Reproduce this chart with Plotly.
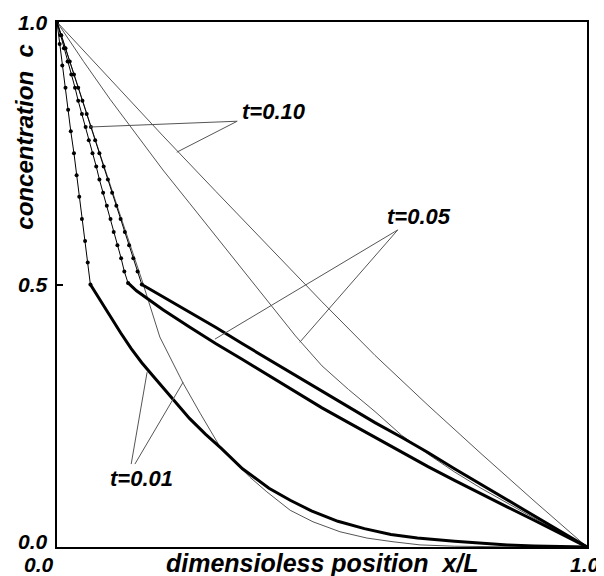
import plotly.graph_objects as go

# ---------------- data ----------------
# thin (analytic-type) curves
thin_t010_x = [0.0, 0.1, 0.2, 0.3, 0.4, 0.5, 0.6, 0.7, 0.8, 0.9, 1.0]
thin_t010_c = [1.0, 0.891, 0.783, 0.677, 0.572, 0.467, 0.365, 0.270, 0.178, 0.088, 0.0]

thin_t005_x = [0.0, 0.05, 0.1, 0.15, 0.2, 0.25, 0.3, 0.35, 0.4, 0.45, 0.5, 0.55, 0.6,
               0.65, 0.7, 0.75, 0.8, 0.85, 0.9, 0.95, 1.0]
thin_t005_c = [1.0, 0.925, 0.853, 0.785, 0.718, 0.655, 0.592, 0.530, 0.467, 0.402, 0.345,
               0.300, 0.258, 0.213, 0.177, 0.143, 0.112, 0.083, 0.055, 0.027, 0.0]

thin_t001_x = [0.0, 0.04, 0.08, 0.12, 0.16, 0.194, 0.238, 0.27, 0.308, 0.364, 0.396, 0.44,
               0.483, 0.534, 0.585, 0.634, 0.685, 0.75, 0.85, 1.0]
thin_t001_c = [1.0, 0.875, 0.752, 0.630, 0.509, 0.400, 0.312, 0.255, 0.190, 0.133, 0.105,
               0.070, 0.048, 0.029, 0.017, 0.010, 0.004, 0.0015, 0.0003, 0.0]

# numerical curves: inner region nodes (with visible markers)
num_t001_in_x = [0.0, 0.005, 0.010, 0.016, 0.021, 0.026, 0.032, 0.037, 0.042, 0.047, 0.053, 0.058, 0.063]
num_t001_in_c = [1.0, 0.958, 0.917, 0.875, 0.833, 0.792, 0.750, 0.708, 0.667, 0.625, 0.583, 0.542, 0.500]

num_t005_in_x = [0.0, 0.007, 0.013, 0.020, 0.027, 0.034, 0.040, 0.047, 0.054, 0.060, 0.067,
                 0.074, 0.080, 0.087, 0.094, 0.101, 0.107, 0.114, 0.121, 0.127, 0.134]
num_t005_in_c = [1.0, 0.975, 0.950, 0.925, 0.900, 0.875, 0.850, 0.825, 0.800, 0.775, 0.750,
                 0.725, 0.700, 0.675, 0.650, 0.625, 0.600, 0.575, 0.550, 0.525, 0.503]

num_t010_in_x = [0.0, 0.008, 0.016, 0.024, 0.032, 0.040, 0.048, 0.056, 0.064, 0.072, 0.080,
                 0.088, 0.096, 0.104, 0.112, 0.120, 0.128, 0.136, 0.144, 0.152, 0.160]
num_t010_in_c = [1.0, 0.975, 0.950, 0.925, 0.900, 0.875, 0.850, 0.825, 0.800, 0.775, 0.750,
                 0.725, 0.700, 0.675, 0.650, 0.625, 0.600, 0.575, 0.550, 0.525, 0.500]

# numerical curves: outer region (dense nodes -> thick beaded line)
num_t001_out_x = [0.063, 0.08, 0.10, 0.12, 0.14, 0.16, 0.18, 0.20, 0.22, 0.25, 0.28, 0.31,
                  0.35, 0.40, 0.44, 0.48, 0.53, 0.58, 0.63, 0.68, 0.75, 0.80, 0.85, 0.90, 0.95, 1.0]
num_t001_out_c = [0.500, 0.472, 0.440, 0.408, 0.378, 0.351, 0.327, 0.304, 0.281, 0.245, 0.215,
                  0.188, 0.149, 0.112, 0.089, 0.069, 0.049, 0.035, 0.024, 0.017, 0.011, 0.007,
                  0.004, 0.002, 0.001, 0.0]

num_t005_out_x = [0.134, 0.15, 0.175, 0.2, 0.25, 0.3, 0.35, 0.4, 0.45, 0.5, 0.55, 0.6, 0.65,
                  0.7, 0.75, 0.8, 0.85, 0.9, 0.95, 1.0]
num_t005_out_c = [0.503, 0.488, 0.470, 0.452, 0.419, 0.387, 0.357, 0.326, 0.295, 0.265, 0.237,
                  0.209, 0.182, 0.153, 0.127, 0.101, 0.076, 0.051, 0.025, 0.0]

num_t010_out_x = [0.160, 0.2, 0.25, 0.3, 0.35, 0.4, 0.45, 0.5, 0.55, 0.6, 0.65, 0.7, 0.75,
                  0.8, 0.85, 0.9, 0.95, 1.0]
num_t010_out_c = [0.500, 0.477, 0.447, 0.418, 0.387, 0.357, 0.327, 0.297, 0.267, 0.237, 0.209,
                  0.180, 0.149, 0.119, 0.089, 0.059, 0.030, 0.0]

# curve labels and their leader lines (tip on curve -> label corner)
label_text = ["t=0.10", "t=0.05", "t=0.01"]
label_x = [0.345, 0.619, 0.096]
label_c = [0.829, 0.630, 0.130]
leader_from_x = [0.062, 0.226, 0.298, 0.458, 0.170, 0.238]
leader_from_c = [0.800, 0.752, 0.396, 0.390, 0.333, 0.314]
leader_to_x = [0.340, 0.340, 0.643, 0.643, 0.140, 0.147]
leader_to_c = [0.811, 0.811, 0.604, 0.604, 0.158, 0.158]

y_tick_vals = [0.0, 0.5, 1.0]
y_tick_text = ["0.0", "0.5", "1.0"]
x_tick_vals = [0.0, 1.0]
x_tick_text = ["0.0", "1.0"]

x_title = "dimensioless position  x/L"
y_title = "concentration  c"

# ---------------- figure ----------------
FONT = "Liberation Sans, Arial, sans-serif"
THIN = "#555555"

fig = go.Figure()

for xs, cs in [(thin_t010_x, thin_t010_c), (thin_t005_x, thin_t005_c), (thin_t001_x, thin_t001_c)]:
    fig.add_trace(go.Scatter(x=xs, y=cs, mode="lines",
                             line=dict(color=THIN, width=1), hoverinfo="skip"))

for xs, cs in [(num_t001_in_x, num_t001_in_c), (num_t005_in_x, num_t005_in_c),
               (num_t010_in_x, num_t010_in_c)]:
    fig.add_trace(go.Scatter(x=xs, y=cs, mode="lines+markers",
                             line=dict(color="black", width=1),
                             marker=dict(color="black", size=4, symbol="circle"),
                             hoverinfo="skip"))

for xs, cs in [(num_t001_out_x, num_t001_out_c), (num_t005_out_x, num_t005_out_c),
               (num_t010_out_x, num_t010_out_c)]:
    fig.add_trace(go.Scatter(x=xs, y=cs, mode="lines",
                             line=dict(color="black", width=3), hoverinfo="skip"))

for x0, c0, x1, c1 in zip(leader_from_x, leader_from_c, leader_to_x, leader_to_c):
    fig.add_shape(type="line", xref="x", yref="y", x0=x0, y0=c0, x1=x1, y1=c1,
                  line=dict(color=THIN, width=1))

for txt, lx, lc in zip(label_text, label_x, label_c):
    fig.add_annotation(x=lx, y=lc, xref="x", yref="y", text="<b><i>%s</i></b>" % txt,
                       showarrow=False, xanchor="left", yanchor="middle",
                       font=dict(family=FONT, size=22, color="black"))

for v, t in zip(y_tick_vals, y_tick_text):
    fig.add_annotation(x=0, y=v, xref="paper", yref="y", text="<b><i>%s</i></b>" % t,
                       showarrow=False, xanchor="right", yanchor="middle", xshift=-8,
                       yshift=6 if v == 0 else 0, borderpad=0,
                       font=dict(family=FONT, size=21, color="black"))

for v, t in zip(x_tick_vals, x_tick_text):
    fig.add_annotation(x=v, y=0, xref="x", yref="paper", text="<b><i>%s</i></b>" % t,
                       showarrow=False, xanchor="center", yanchor="middle",
                       xshift=-18 if v == 0 else -2, yshift=-17, borderpad=0,
                       font=dict(family=FONT, size=21, color="black"))

fig.add_annotation(x=0.50, y=-0.031, xref="paper", yref="paper",
                   text="<b><i>%s</i></b>" % x_title, showarrow=False,
                   xanchor="center", yanchor="middle",
                   font=dict(family=FONT, size=25, color="black"))
fig.add_annotation(x=-0.062, y=0.78, xref="paper", yref="paper",
                   text="<b><i>%s</i></b>" % y_title, showarrow=False, textangle=-90,
                   xanchor="center", yanchor="middle",
                   font=dict(family=FONT, size=24, color="black"))

# the page body adds an 8px margin, so the figure is sized to fill the rest of the window
fig.update_layout(
    width=596, height=568,
    margin=dict(l=49, r=17, t=14, b=29),
    paper_bgcolor="white", plot_bgcolor="white",
    showlegend=False,
    xaxis=dict(range=[0, 1], showgrid=False, zeroline=False, showticklabels=False,
               showline=True, mirror=True, linecolor="black", linewidth=2, ticks=""),
    yaxis=dict(range=[0, 1], showgrid=False, zeroline=False, showticklabels=False,
               showline=True, mirror=True, linecolor="black", linewidth=2,
               ticks="inside", tickvals=[0.5], ticklen=6, tickwidth=2, tickcolor="black"),
)

fig.write_html("out.html")
